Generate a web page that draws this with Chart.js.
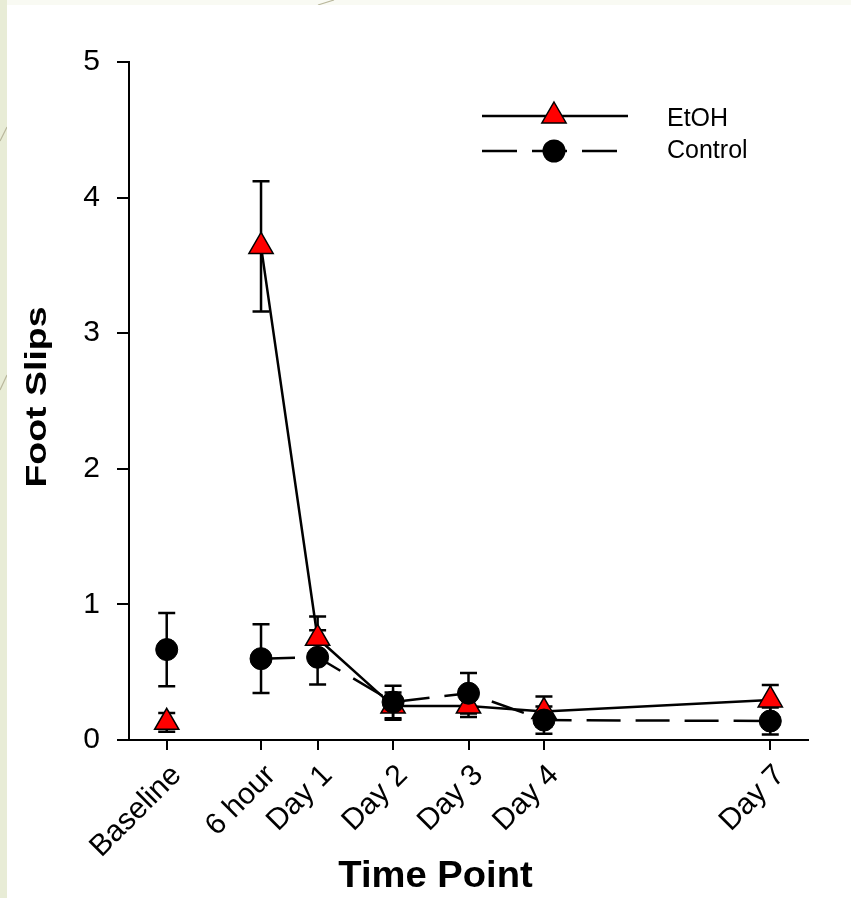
<!DOCTYPE html>
<html>
<head>
<meta charset="utf-8">
<script src="https://cdn.jsdelivr.net/npm/chart.js@4.4.0/dist/chart.umd.min.js"></script>
<style>
  html, body { margin: 0; padding: 0; background: #fff; }
  canvas { display: block; }
</style>
</head>
<body>
<canvas id="chart" width="851" height="898"></canvas>
<script>
// x positions are days relative to dosing; Baseline sits one day before
const categories = ['Baseline', '6 hour', 'Day 1', 'Day 2', 'Day 3', 'Day 4', 'Day 7'];
const timeValues = [-1, 0.25, 1, 2, 3, 4, 7];

const etohMean = [0.13, 3.64, 0.75, 0.25, 0.25, 0.21, 0.295];
const etohErr = [0.07, 0.48, 0.16, 0.10, 0.08, 0.11, 0.11];

const controlMean = [0.667, 0.60, 0.61, 0.28, 0.345, 0.147, 0.14];
const controlErr = [0.27, 0.254, 0.20, 0.12, 0.15, 0.10, 0.10];

const yTicks = [0, 1, 2, 3, 4, 5];

const FONT = '"Liberation Sans", Arial, sans-serif';

function toPoints(values) {
    return values.map((v, i) => ({ x: timeValues[i], y: v }));
}

// baseline is plotted on its own, no line to the 6 hour point
const hideFirstSegment = ctx => ctx.p0DataIndex === 0 ? 'rgba(0,0,0,0)' : '#000';

function drawTriangle(ctx, x, y, r) {
    ctx.beginPath();
    ctx.moveTo(x, y - r);
    ctx.lineTo(x + 0.866 * r, y + 0.5 * r);
    ctx.lineTo(x - 0.866 * r, y + 0.5 * r);
    ctx.closePath();
    ctx.fillStyle = '#ff0000';
    ctx.fill();
    ctx.lineWidth = 1.5;
    ctx.strokeStyle = '#000';
    ctx.stroke();
}

const errorSets = [
    { mean: controlMean, err: controlErr },
    { mean: etohMean, err: etohErr }
];

const decorPlugin = {
    id: 'decor',
    beforeDraw(chart) {
        const ctx = chart.ctx;
        ctx.save();
        ctx.fillStyle = '#e8ecd6';
        ctx.fillRect(0, 0, chart.width, chart.height);
        ctx.fillStyle = '#f9faf3';
        ctx.fillRect(7, 0, chart.width - 7, 5);
        ctx.strokeStyle = '#b9b79c';
        ctx.lineWidth = 1.2;
        ctx.beginPath();
        ctx.moveTo(0, 141); ctx.lineTo(7, 127);
        ctx.moveTo(0, 390); ctx.lineTo(7, 375);
        ctx.moveTo(318, 5); ctx.lineTo(334, 0);
        ctx.stroke();
        ctx.fillStyle = '#ffffff';
        ctx.fillRect(7, 5, chart.width - 7, chart.height - 5);
        ctx.restore();
    },
    beforeDatasetsDraw(chart) {
        const ctx = chart.ctx;
        const xs = chart.scales.x;
        const ys = chart.scales.y;
        ctx.save();
        ctx.strokeStyle = '#000';
        ctx.lineWidth = 2.5;
        errorSets.forEach(set => {
            set.mean.forEach((m, i) => {
                const px = xs.getPixelForValue(timeValues[i]);
                const top = ys.getPixelForValue(m + set.err[i]);
                const bot = ys.getPixelForValue(m - set.err[i]);
                ctx.beginPath();
                ctx.moveTo(px, top); ctx.lineTo(px, bot);
                ctx.moveTo(px - 8.5, top); ctx.lineTo(px + 8.5, top);
                ctx.moveTo(px - 8.5, bot); ctx.lineTo(px + 8.5, bot);
                ctx.stroke();
            });
        });
        ctx.restore();
    },
    afterDraw(chart) {
        const ctx = chart.ctx;
        ctx.save();
        ctx.fillStyle = '#000';

        // axis titles
        ctx.font = 'bold 36px ' + FONT;
        ctx.textAlign = 'center';
        ctx.textBaseline = 'alphabetic';
        ctx.save();
        ctx.translate(435.5, 887);
        ctx.scale(1.06, 1);
        ctx.fillText('Time Point', 0, 0);
        ctx.restore();

        ctx.save();
        ctx.translate(46, 397);
        ctx.rotate(-Math.PI / 2);
        ctx.scale(1.25, 1);
        ctx.font = 'bold 30px ' + FONT;
        ctx.fillText('Foot Slips', 0, 0);
        ctx.restore();

        // legend
        ctx.strokeStyle = '#000';
        ctx.lineWidth = 2.5;
        ctx.beginPath();
        ctx.moveTo(482, 116); ctx.lineTo(628, 116);
        ctx.stroke();
        drawTriangle(ctx, 554, 116, 14);

        ctx.strokeStyle = '#000';
        ctx.lineWidth = 2.5;
        ctx.setLineDash([35, 15]);
        ctx.beginPath();
        ctx.moveTo(482, 151); ctx.lineTo(617, 151);
        ctx.stroke();
        ctx.setLineDash([]);
        ctx.beginPath();
        ctx.arc(554, 151, 11.5, 0, Math.PI * 2);
        ctx.fillStyle = '#000';
        ctx.fill();

        ctx.font = '25px ' + FONT;
        ctx.textAlign = 'left';
        ctx.fillText('EtOH', 667, 126);
        ctx.fillText('Control', 667, 158);
        ctx.restore();
    }
};

new Chart(document.getElementById('chart'), {
    type: 'line',
    data: {
        datasets: [
            {
                label: 'Control',
                data: toPoints(controlMean),
                borderColor: '#000',
                borderWidth: 2.5,
                borderDash: [34, 15],
                segment: { borderColor: hideFirstSegment },
                pointStyle: 'circle',
                pointRadius: 11,
                pointBackgroundColor: '#000',
                pointBorderColor: '#000',
                pointBorderWidth: 1,
                tension: 0,
                fill: false,
                clip: false
            },
            {
                label: 'EtOH',
                data: toPoints(etohMean),
                borderColor: '#000',
                borderWidth: 2.5,
                segment: { borderColor: hideFirstSegment },
                pointStyle: 'triangle',
                pointRadius: 14,
                pointBackgroundColor: '#ff0000',
                pointBorderColor: '#000',
                pointBorderWidth: 1.5,
                tension: 0,
                fill: false,
                clip: false
            }
        ]
    },
    options: {
        responsive: false,
        animation: false,
        layout: { padding: { top: 62, right: 43, bottom: 0, left: 0 } },
        plugins: {
            legend: { display: false },
            tooltip: { enabled: false }
        },
        scales: {
            x: {
                type: 'linear',
                min: -1.5,
                max: 7.5,
                afterBuildTicks: scale => { scale.ticks = timeValues.map(v => ({ value: v })); },
                afterFit: scale => { scale.height = 158; },
                ticks: {
                    autoSkip: false,
                    minRotation: 45,
                    maxRotation: 45,
                    labelOffset: 10,
                    padding: 8,
                    color: '#000',
                    font: { family: FONT, size: 30 },
                    callback: (value, index) => categories[index]
                },
                grid: { drawOnChartArea: false, drawTicks: true, tickLength: 10, color: '#000', lineWidth: 2 },
                border: { display: true, color: '#000', width: 2 }
            },
            y: {
                min: 0,
                max: 5,
                afterBuildTicks: scale => { scale.ticks = yTicks.map(v => ({ value: v })); },
                afterFit: scale => { scale.width = 129; },
                ticks: {
                    padding: 17,
                    color: '#000',
                    font: { family: FONT, size: 30 }
                },
                grid: { drawOnChartArea: false, drawTicks: true, tickLength: 12, color: '#000', lineWidth: 2 },
                border: { display: true, color: '#000', width: 2 }
            }
        }
    },
    plugins: [decorPlugin]
});
</script>
</body>
</html>
